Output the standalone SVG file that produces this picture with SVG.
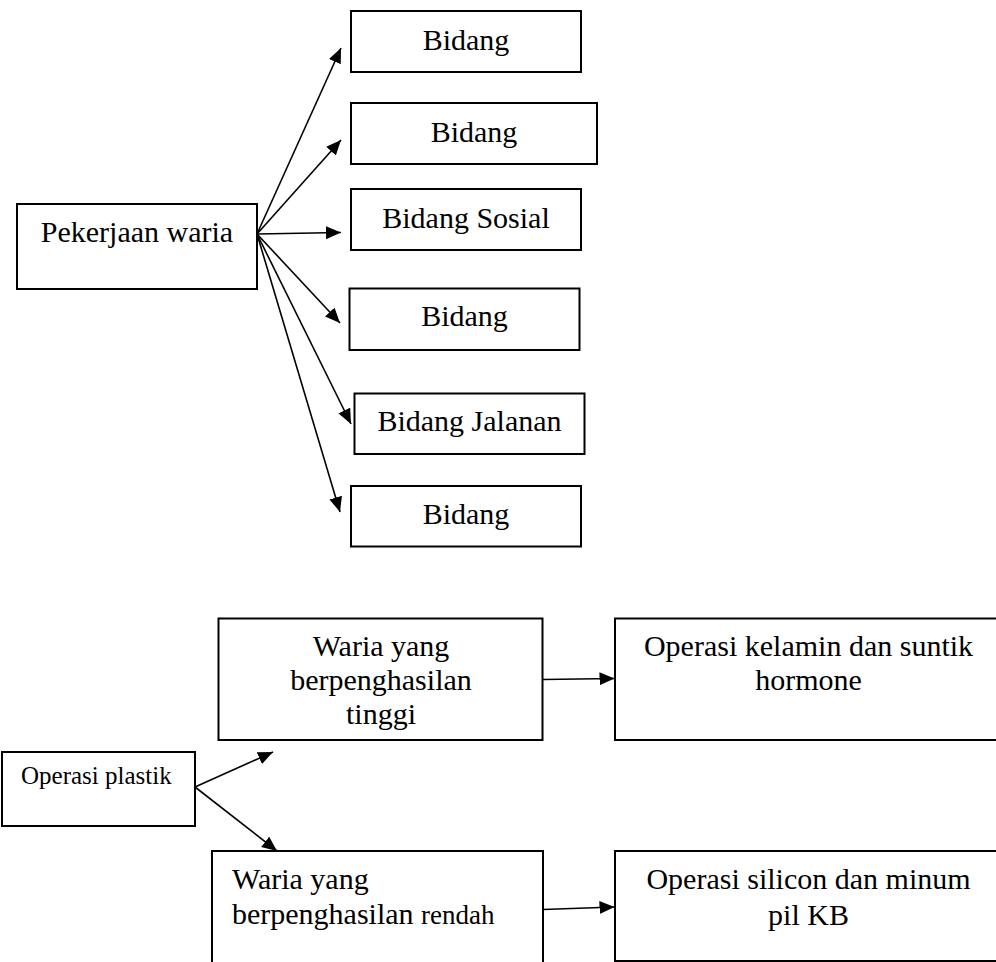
<svg xmlns="http://www.w3.org/2000/svg" width="996" height="962" viewBox="0 0 996 962">
<style>
.box{fill:#fff;stroke:#000;stroke-width:2}
.t{font-family:"Liberation Serif","Times New Roman",serif;font-size:30px;fill:#000}
.c{text-anchor:middle}
.ln{stroke:#000;stroke-width:1.6;fill:none;marker-end:url(#ah)}
</style>
<defs>
<marker id="ah" markerUnits="userSpaceOnUse" markerWidth="18" markerHeight="14" refX="15" refY="6.5" orient="auto">
<path d="M0,0 L15,6.5 L0,13 z" fill="#000"/>
</marker>
</defs>
<rect width="996" height="962" fill="#fff"/>
<g id="connectors">
<line class="ln" x1="257" y1="234" x2="341" y2="48"/>
<line class="ln" x1="257" y1="234" x2="341" y2="140"/>
<line class="ln" x1="257" y1="234" x2="341" y2="232.5"/>
<line class="ln" x1="257" y1="234" x2="340" y2="323"/>
<line class="ln" x1="257" y1="234" x2="351" y2="424"/>
<line class="ln" x1="257" y1="234" x2="340" y2="512"/>
<line class="ln" x1="195" y1="787" x2="273" y2="752"/>
<line class="ln" x1="195" y1="787" x2="277" y2="851"/>
<line class="ln" x1="543" y1="679.5" x2="614.5" y2="678.5"/>
<line class="ln" x1="543" y1="909.5" x2="614.5" y2="907"/>
</g>
<g id="pekerjaan">
<rect class="box" x="17" y="204" width="240" height="85"/>
<text class="t c" x="137" y="242">Pekerjaan waria</text>
</g>
<g id="bidang1">
<rect class="box" x="351" y="11" width="230" height="61"/>
<text class="t c" x="466" y="49.5">Bidang</text>
</g>
<g id="bidang2">
<rect class="box" x="351" y="103" width="246" height="61"/>
<text class="t c" x="474" y="142">Bidang</text>
</g>
<g id="bidang-sosial">
<rect class="box" x="351" y="189" width="230" height="61"/>
<text class="t c" x="466" y="227.5">Bidang Sosial</text>
</g>
<g id="bidang4">
<rect class="box" x="349.5" y="288.5" width="230" height="61.5"/>
<text class="t c" x="464.5" y="326">Bidang</text>
</g>
<g id="bidang-jalanan">
<rect class="box" x="354.5" y="393.5" width="230" height="60.5"/>
<text class="t c" x="469.5" y="431">Bidang Jalanan</text>
</g>
<g id="bidang6">
<rect class="box" x="351" y="486" width="230" height="60.5"/>
<text class="t c" x="466" y="523.5">Bidang</text>
</g>
<g id="operasi-plastik">
<rect class="box" x="2" y="752" width="193" height="74"/>
<text class="t" x="21" y="784" style="font-size:25px">Operasi plastik</text>
</g>
<g id="waria-tinggi">
<rect class="box" x="218.5" y="618.5" width="324" height="121.5"/>
<text class="t c" x="381" y="655.5">Waria yang</text>
<text class="t c" x="381" y="690">berpenghasilan</text>
<text class="t c" x="381" y="723.5">tinggi</text>
</g>
<g id="operasi-kelamin">
<rect class="box" x="615" y="618.5" width="400" height="121.5"/>
<text class="t c" x="808.5" y="656">Operasi kelamin dan suntik</text>
<text class="t c" x="808.5" y="690">hormone</text>
</g>
<g id="waria-rendah">
<rect class="box" x="212" y="851" width="331" height="130"/>
<text class="t" x="232" y="888.5">Waria yang</text>
<text class="t" x="232" y="923.5">berpenghasilan <tspan style="font-size:27px">rendah</tspan></text>
</g>
<g id="operasi-silicon">
<rect class="box" x="615" y="851" width="400" height="110"/>
<text class="t c" x="808.5" y="888.5">Operasi silicon dan minum</text>
<text class="t c" x="808.5" y="925">pil KB</text>
</g>
</svg>
